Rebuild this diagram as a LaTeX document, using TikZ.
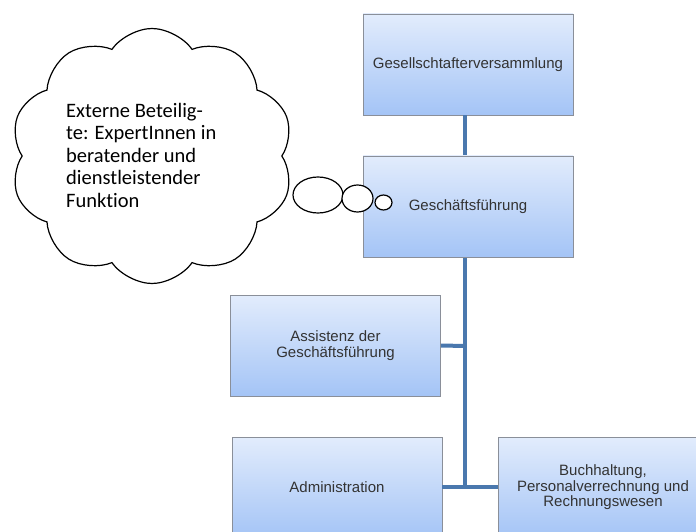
\documentclass[tikz,border=0pt]{standalone}
\usepackage{fontspec}
\setmainfont{Liberation Sans}
\newfontfamily\cloudfont[Ligatures=NoCommon]{Carlito}
\usetikzlibrary{shapes.symbols,shapes.geometric,shadows}
\definecolor{linkblue}{HTML}{4A78AE}
\definecolor{boxtop}{HTML}{E2ECFC}
\definecolor{boxbot}{HTML}{A4C4F6}
\definecolor{boxline}{HTML}{8A8F99}
\begin{document}
\begin{tikzpicture}[x=1pt,y=-1pt,
  orgbox/.style={draw=boxline, line width=0.8pt, top color=boxtop, bottom color=boxbot,
    minimum width=210pt, minimum height=101pt, inner sep=2pt, align=center,
    font=\fontsize{15}{15.5}\selectfont, text=black!80},
  link/.style={draw=linkblue, line width=4pt},
  bubble/.style={draw=black, fill=white, line width=1.2pt}]
\useasboundingbox (0,0) rectangle (696,532);
\begin{scope}
\clip (0,0) rectangle (696,532);
\node[orgbox] (gv) at (468,64.5) {Gesellschtafterversammlung};
\node[orgbox] (gf) at (468,206.5) {Geschäftsführung};
\node[orgbox] (as) at (335.5,345.5) {Assistenz der\\Geschäftsführung};
\node[orgbox] (ad) at (337,487.5) {Administration};
\node[orgbox] (bu) at (603,487.5) {Buchhaltung,\\Personalverrechnung und\\Rechnungswesen};
\coordinate (jb) at (465,487);
\draw[link] (465,115.5) -- (465,155.5);
\draw[link] (465,257.5) -- (jb);
\draw[link] (as.east) -- (465,346);
\draw[link] (ad.east |- jb) -- (bu.west |- jb);
\end{scope}
\node[cloud, draw, line width=1.2pt, fill=white, cloud puffs=10, cloud puff arc=110, aspect=1.1,
  minimum width=283pt, minimum height=255pt, inner sep=0pt] (cl) at (152,156) {};
\node[anchor=west, align=left, inner sep=0pt, font=\cloudfont\fontsize{20.5}{22.5}\selectfont] (ct) at (66,155)
  {Externe Beteilig-\\te: ExpertInnen in\\beratender und\\dienstleistender\\Funktion};
\node[bubble, ellipse, minimum width=50pt, minimum height=36pt, inner sep=0pt] (b1) at (318,195) {};
\node[bubble, ellipse, minimum width=31pt, minimum height=27pt, inner sep=0pt] (b2) at (357.5,198.5) {};
\node[bubble, ellipse, minimum width=17pt, minimum height=15pt, inner sep=0pt] (b3) at (383.5,202.5) {};
\end{tikzpicture}
\end{document}
